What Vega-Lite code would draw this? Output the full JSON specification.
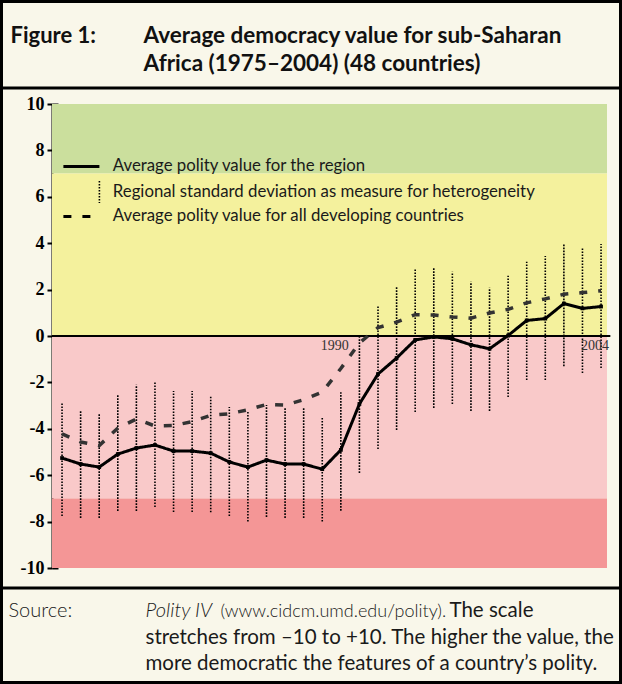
{
  "$schema": "https://vega.github.io/schema/vega-lite/v6.json",
  "width": 622,
  "height": 684,
  "autosize": "none",
  "padding": 0,
  "background": "#ffffff",
  "config": {
    "view": {"stroke": "#000000", "strokeWidth": 6, "fill": "#f9f7ea"},
    "axis": {"grid": false},
    "axisY": {"labelFontSize": 18, "labelFont": "Liberation Serif", "labelFontWeight": "bold", "labelColor": "#000000"}
  },
  "datasets": {
    "polity": [
      {"year": 1975, "region": -5.26, "lo": -7.76, "hi": -2.84, "developing": -4.22},
      {"year": 1976, "region": -5.52, "lo": -7.84, "hi": -3.19, "developing": -4.57},
      {"year": 1977, "region": -5.65, "lo": -7.84, "hi": -3.32, "developing": -4.72},
      {"year": 1978, "region": -5.09, "lo": -7.54, "hi": -2.55, "developing": -3.97},
      {"year": 1979, "region": -4.83, "lo": -7.54, "hi": -2.10, "developing": -3.58},
      {"year": 1980, "region": -4.70, "lo": -7.37, "hi": -1.97, "developing": -3.88},
      {"year": 1981, "region": -4.96, "lo": -7.59, "hi": -2.37, "developing": -3.86},
      {"year": 1982, "region": -4.96, "lo": -7.59, "hi": -2.37, "developing": -3.69},
      {"year": 1983, "region": -5.05, "lo": -7.60, "hi": -2.55, "developing": -3.42},
      {"year": 1984, "region": -5.43, "lo": -7.76, "hi": -3.06, "developing": -3.35},
      {"year": 1985, "region": -5.65, "lo": -8.00, "hi": -3.23, "developing": -3.18},
      {"year": 1986, "region": -5.35, "lo": -7.80, "hi": -2.97, "developing": -2.95},
      {"year": 1987, "region": -5.52, "lo": -7.84, "hi": -3.10, "developing": -2.98},
      {"year": 1988, "region": -5.52, "lo": -7.84, "hi": -3.06, "developing": -2.75},
      {"year": 1989, "region": -5.74, "lo": -8.00, "hi": -3.49, "developing": -2.42},
      {"year": 1990, "region": -4.91, "lo": -7.53, "hi": -2.42, "developing": -1.40},
      {"year": 1991, "region": -2.93, "lo": -5.90, "hi": -0.05, "developing": -0.30},
      {"year": 1992, "region": -1.64, "lo": -4.87, "hi": 1.30, "developing": 0.36},
      {"year": 1993, "region": -0.95, "lo": -4.05, "hi": 2.13, "developing": 0.60},
      {"year": 1994, "region": -0.17, "lo": -3.28, "hi": 2.90, "developing": 0.92},
      {"year": 1995, "region": -0.04, "lo": -3.10, "hi": 2.94, "developing": 0.90},
      {"year": 1996, "region": -0.12, "lo": -2.93, "hi": 2.77, "developing": 0.82},
      {"year": 1997, "region": -0.38, "lo": -3.23, "hi": 2.34, "developing": 0.77},
      {"year": 1998, "region": -0.55, "lo": -3.23, "hi": 2.08, "developing": 0.99},
      {"year": 1999, "region": 0.02, "lo": -2.63, "hi": 2.60, "developing": 1.15},
      {"year": 2000, "region": 0.67, "lo": -1.90, "hi": 3.20, "developing": 1.43},
      {"year": 2001, "region": 0.75, "lo": -1.90, "hi": 3.45, "developing": 1.60},
      {"year": 2002, "region": 1.40, "lo": -1.30, "hi": 4.00, "developing": 1.80},
      {"year": 2003, "region": 1.19, "lo": -1.60, "hi": 3.84, "developing": 1.87},
      {"year": 2004, "region": 1.27, "lo": -1.38, "hi": 3.97, "developing": 1.95}
    ]
  },
  "data": {"name": "polity"},
  "layer": [
    {
      "data": {"values": [
        {"zone": "full democracy", "lo": 7, "hi": 10},
        {"zone": "democracy", "lo": 0, "hi": 7},
        {"zone": "autocracy", "lo": -7, "hi": 0},
        {"zone": "full autocracy", "lo": -10, "hi": -7}
      ]},
      "mark": {"type": "rect"},
      "encoding": {
        "x": {"datum": 1974.46, "scale": {"domain": [1974.46, 2004.32], "range": [52, 607], "nice": false, "zero": false},
          "axis": {"orient": "top", "domain": false, "ticks": false, "labels": false,
            "title": ["stretches from \u201310 to +10. The higher the value, the", "more democratic the features of a country\u2019s polity."],
            "titleX": 145, "titleY": 643, "titleLineHeight": 26.5, "titleAlign": "left", "titleAnchor": "start", "titleBaseline": "alphabetic", "titleAngle": 0,
            "titleFont": "Lato", "titleFontSize": 20.5, "titleFontWeight": "normal", "titleColor": "#1a1a1a"}},
        "x2": {"datum": 2004.32},
        "y": {"field": "lo", "type": "quantitative", "scale": {"domain": [-10, 10], "range": [568, 104], "nice": false, "zero": false}, "axis": null},
        "y2": {"field": "hi"},
        "color": {"field": "zone", "type": "nominal", "legend": null,
          "scale": {"domain": ["full democracy", "democracy", "autocracy", "full autocracy"], "range": ["#cbdf9d", "#f4f19d", "#f9c9c9", "#f49696"]}}
      }
    },
    {
      "data": {"values": [{}]},
      "mark": {"type": "rule", "color": "#000000", "strokeWidth": 3},
      "encoding": {
        "y": {"datum": 10.69, "scale": {"domain": [-10, 10], "range": [568, 104], "nice": false, "zero": false}, "axis": null}
      }
    },
    {
      "data": {"values": [{}]},
      "mark": {"type": "rule", "color": "#000000", "strokeWidth": 3},
      "encoding": {
        "y": {"datum": -10.86, "scale": {"domain": [-10, 10], "range": [568, 104], "nice": false, "zero": false}, "axis": null}
      }
    },
    {
      "data": {"values": [{}]},
      "mark": {"type": "rule", "color": "#000000", "strokeWidth": 2},
      "encoding": {
        "x": {"datum": 1974.46, "scale": {"domain": [1974.46, 2004.32], "range": [52, 607], "nice": false, "zero": false},
          "axis": {"orient": "top", "domain": false, "ticks": false, "labels": false,
            "title": "The scale",
            "titleX": 449, "titleY": 616, "titleAlign": "left", "titleAnchor": "start", "titleBaseline": "alphabetic", "titleAngle": 0,
            "titleFont": "Lato", "titleFontSize": 20.5, "titleFontWeight": "normal", "titleColor": "#1a1a1a"}},
        "x2": {"datum": 2004.5},
        "y": {"datum": 0, "scale": {"domain": [-10, 10], "range": [568, 104], "nice": false, "zero": false}, "axis": null}
      }
    },
    {
      "mark": {"type": "rule", "color": "#000000", "strokeWidth": 1.6},
      "encoding": {
        "x": {"field": "year", "type": "quantitative", "scale": {"domain": [1974.46, 2004.32], "range": [52, 607], "nice": false, "zero": false},
          "axis": {"orient": "top", "domain": false, "ticks": false, "labels": false,
            "title": "Figure 1:",
            "titleX": 10, "titleY": 42, "titleAlign": "left", "titleAnchor": "start", "titleBaseline": "alphabetic", "titleAngle": 0,
            "titleFont": "Lato", "titleFontSize": 22, "titleFontWeight": "bold", "titleColor": "#111111"}},
        "y": {"field": "lo", "type": "quantitative", "scale": {"domain": [-10, 10], "range": [568, 104], "nice": false, "zero": false},
          "axis": {"orient": "left", "offset": -58, "values": [-10, -8, -6, -4, -2, 0, 2, 4, 6, 8, 10], "domain": false, "labels": false,
            "tickColor": "#000000", "tickWidth": 2, "tickSize": 6, "title": null}},
        "y2": {"field": "hi"},
        "strokeDash": {"datum": "Regional standard deviation as measure for heterogeneity",
          "scale": {"domain": ["Average polity value for the region", "Regional standard deviation as measure for heterogeneity", "Average polity value for all developing countries"],
            "range": [[1, 0], [1.6, 1.4], [8, 11]]},
          "legend": {"title": null, "orient": "none", "legendX": 91, "legendY": 158, "padding": 0,
            "symbolSize": 100, "symbolStrokeColor": "#000000", "symbolFillColor": "transparent",
            "labelFont": "Lato", "labelFontSize": 16.8, "labelColor": "#1a1a1a", "labelOffset": 5, "labelLimit": 0, "rowPadding": 1.5,
            "encode": {"symbols": {"update": {
              "shape": {"signal": "datum.value === 'Regional standard deviation as measure for heterogeneity' ? 'M0,-2.2V2.2' : (datum.value === 'Average polity value for all developing countries' ? 'M-7.2,0H-0.6' : 'M-7.2,0H0')"},
              "strokeWidth": {"signal": "datum.value === 'Regional standard deviation as measure for heterogeneity' ? 1.6 : 3"}
            }}}}
        }
      }
    },
    {
      "mark": {"type": "line", "color": "#333333", "strokeWidth": 3.5},
      "encoding": {
        "x": {"field": "year", "type": "quantitative", "scale": {"domain": [1974.46, 2004.32], "range": [52, 607], "nice": false, "zero": false},
          "axis": {"orient": "top", "domain": false, "ticks": false, "labels": false,
            "title": "Source:",
            "titleX": 8, "titleY": 616, "titleAlign": "left", "titleAnchor": "start", "titleBaseline": "alphabetic", "titleAngle": 0,
            "titleFont": "Lato", "titleFontSize": 20, "titleFontWeight": 300, "titleColor": "#1a1a1a"}},
        "y": {"field": "developing", "type": "quantitative", "scale": {"domain": [-10, 10], "range": [568, 104], "nice": false, "zero": false}, "axis": null},
        "strokeDash": {"datum": "Average polity value for all developing countries",
          "scale": {"domain": ["Average polity value for the region", "Regional standard deviation as measure for heterogeneity", "Average polity value for all developing countries"],
            "range": [[1, 0], [1.6, 1.4], [8, 11]]}}
      }
    },
    {
      "mark": {"type": "line", "color": "#000000", "strokeWidth": 3},
      "encoding": {
        "x": {"field": "year", "type": "quantitative", "scale": {"domain": [1974.46, 2004.32], "range": [52, 607], "nice": false, "zero": false},
          "axis": {"orient": "top", "domain": false, "ticks": false, "labels": false,
            "title": ["Average democracy value for sub-Saharan", "Africa (1975\u20132004) (48 countries)"],
            "titleX": 143, "titleY": 42, "titleLineHeight": 28, "titleAlign": "left", "titleAnchor": "start", "titleBaseline": "alphabetic", "titleAngle": 0,
            "titleFont": "Lato", "titleFontSize": 22.5, "titleFontWeight": "bold", "titleColor": "#111111"}},
        "y": {"field": "region", "type": "quantitative", "scale": {"domain": [-10, 10], "range": [568, 104], "nice": false, "zero": false},
          "axis": {"orient": "left", "offset": -52, "values": [-10, -8, -6, -4, -2, 0, 2, 4, 6, 8, 10],
            "domainColor": "#000000", "domainWidth": 2, "tickColor": "#000000", "tickWidth": 2, "tickSize": 5,
            "labelFont": "Liberation Serif", "labelFontWeight": "bold", "labelFontSize": 18, "labelColor": "#000000", "labelPadding": 3,
            "labelFlush": false, "labelOverlap": false, "labelExpr": "'' + datum.value", "title": null}},
        "strokeDash": {"datum": "Average polity value for the region",
          "scale": {"domain": ["Average polity value for the region", "Regional standard deviation as measure for heterogeneity", "Average polity value for all developing countries"],
            "range": [[1, 0], [1.6, 1.4], [8, 11]]}}
      }
    },
    {
      "mark": {"type": "point", "shape": "square", "filled": true, "size": 14, "color": "#000000", "opacity": 1},
      "encoding": {
        "x": {"field": "year", "type": "quantitative", "scale": {"domain": [1974.46, 2004.32], "range": [52, 607], "nice": false, "zero": false},
          "axis": {"orient": "top", "domain": false, "ticks": false, "labels": false,
            "title": "Polity IV",
            "titleX": 145, "titleY": 616, "titleAlign": "left", "titleAnchor": "start", "titleBaseline": "alphabetic", "titleAngle": 0,
            "titleFont": "Lato", "titleFontSize": 20, "titleFontWeight": 300, "titleFontStyle": "italic", "titleColor": "#1a1a1a"}},
        "y": {"field": "region", "type": "quantitative", "scale": {"domain": [-10, 10], "range": [568, 104], "nice": false, "zero": false}, "axis": null}
      }
    },
    {
      "transform": [{"filter": "datum.year == 1990 || datum.year == 2004"}],
      "mark": {"type": "text", "align": "right", "baseline": "top", "font": "Liberation Serif", "fontSize": 14, "color": "#333333", "dx": 8, "dy": 3},
      "encoding": {
        "x": {"field": "year", "type": "quantitative", "scale": {"domain": [1974.46, 2004.32], "range": [52, 607], "nice": false, "zero": false},
          "axis": {"orient": "top", "domain": false, "ticks": false, "labels": false,
            "title": "(www.cidcm.umd.edu/polity).",
            "titleX": 220, "titleY": 616, "titleAlign": "left", "titleAnchor": "start", "titleBaseline": "alphabetic", "titleAngle": 0,
            "titleFont": "Lato", "titleFontSize": 18, "titleFontWeight": 300, "titleColor": "#1a1a1a"}},
        "y": {"datum": 0, "scale": {"domain": [-10, 10], "range": [568, 104], "nice": false, "zero": false}, "axis": null},
        "text": {"field": "year", "type": "quantitative", "format": "d"}
      }
    }
  ],
  "resolve": {"axis": {"x": "independent", "y": "independent"}}
}
